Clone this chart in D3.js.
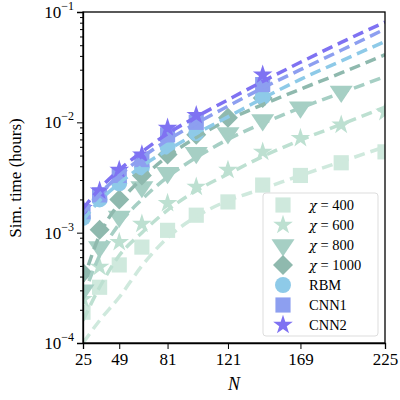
<!DOCTYPE html>
<html><head><meta charset="utf-8">
<script src="https://cdn.jsdelivr.net/npm/d3@7"></script>
<style>body{margin:0;background:#fff}text{font-family:"Liberation Serif",serif;}</style>
</head><body><svg id="c" width="400" height="400"></svg>
<script>
const xTicks=[25,49,81,121,169,225];
const fitN=[25,36,49,64,81,100,121,144,169,196,225];
const names=["400","600","800","1000","RBM","CNN1","CNN2"];
const colors=["#cfe9dd","#bde0d1","#a6cfc4","#8fb9ae","#8ecae8","#8d9ff0","#7f72f2"];
const shapes=["square","star","triangle","diamond","circle","square","star"];
const dataN=[
 [25,36,49,64,81,100,121,144,169,196,225],
 [25,36,49,64,81,100,121,144,169,196,225],
 [25,36,49,64,81,100,121,144,169,196],
 [25,36,49,64,81,100,121,144],
 [25,36,49,64,81,100,144],
 [25,36,49,64,81,100,144],
 [25,36,49,64,81,100,144]];
const chi400=[1.9e-4,3.2e-4,5.1e-4,7.4e-4,1.05e-3,1.44e-3,1.9e-3,2.7e-3,3.3e-3,4.3e-3,5.4e-3];
const chi600=[2.5e-4,4.9e-4,8.2e-4,1.2e-3,1.85e-3,2.6e-3,3.7e-3,5.4e-3,7.2e-3,9.5e-3,1.24e-2];
const chi800=[3.0e-4,7.4e-4,1.4e-3,2.6e-3,3.5e-3,5.3e-3,8.0e-3,1.05e-2,1.37e-2,1.9e-2];
const chi1000=[4.3e-4,1.06e-3,2.0e-3,3.3e-3,5.1e-3,7.7e-3,1.1e-2,1.66e-2];
const rbm=[1.36e-3,2.0e-3,2.8e-3,3.9e-3,6.0e-3,8.0e-3,1.7e-2];
const cnn1=[1.55e-3,2.2e-3,3.3e-3,4.6e-3,7.7e-3,1.0e-2,2.2e-2];
const cnn2=[1.67e-3,2.4e-3,3.7e-3,5.1e-3,8.9e-3,1.16e-2,2.7e-2];
const fit400=[1.0e-4,1.6e-4,2.6e-4,5.0e-4,9.0e-4,1.4e-3,1.95e-3,2.5e-3,3.3e-3,4.4e-3,6.0e-3];
const fit600=[1.6e-4,3.2e-4,6.2e-4,1.0e-3,1.6e-3,2.4e-3,3.4e-3,4.9e-3,6.9e-3,9.6e-3,1.37e-2];
const fit800=[2.6e-4,6.2e-4,1.2e-3,2.0e-3,3.2e-3,4.8e-3,7.0e-3,9.8e-3,1.35e-2,1.85e-2,2.6e-2];
const fit1000=[3.6e-4,9.5e-4,1.85e-3,3.1e-3,4.9e-3,7.3e-3,1.05e-2,1.45e-2,2.0e-2,2.8e-2,4.1e-2];
const fitRbm=[1.3e-3,1.95e-3,2.8e-3,4.0e-3,5.6e-3,7.9e-3,1.12e-2,1.65e-2,2.45e-2,3.6e-2,5.4e-2];
const fitCnn1=[1.5e-3,2.25e-3,3.3e-3,4.8e-3,6.9e-3,9.8e-3,1.4e-2,2.05e-2,3.0e-2,4.5e-2,7.0e-2];
const fitCnn2=[1.65e-3,2.5e-3,3.7e-3,5.4e-3,7.9e-3,1.12e-2,1.6e-2,2.35e-2,3.5e-2,5.3e-2,8.1e-2];
const series=[chi400,chi600,chi800,chi1000,rbm,cnn1,cnn2];
const fits=[fit400,fit600,fit800,fit1000,fitRbm,fitCnn1,fitCnn2];

const L=83,R=385,T=12,B=343;
const svg=d3.select("#c");
const x=d3.scaleLinear().domain([25,225]).range([L,R]);
const y=d3.scaleLog().domain([1e-4,1e-1]).range([B,T]);
svg.append("clipPath").attr("id","cp").append("rect").attr("x",L).attr("y",T).attr("width",R-L).attr("height",B-T);
const g=svg.append("g").attr("clip-path","url(#cp)");
const sym={square:d3.symbolSquare,star:d3.symbolStar,triangle:d3.symbolTriangle,diamond:d3.symbolSquare,circle:d3.symbolCircle};
const size={square:230,star:120,triangle:190,diamond:200,circle:200};
function marker(sel,shape,c){
  const p=sel.append("path").attr("d",d3.symbol().type(sym[shape]).size(size[shape])()).attr("fill",c);
  if(shape==="triangle") p.attr("transform","rotate(180) scale(1.1,0.95)");
  if(shape==="diamond") p.attr("transform","rotate(45)");
  return p;
}
const line=d3.line().x(d=>x(d[0])).y(d=>y(d[1])).curve(d3.curveMonotoneX);
series.forEach((s,i)=>{
  s.forEach((v,j)=>{
    const m=g.append("g").attr("transform",`translate(${x(dataN[i][j])},${y(v)})`);
    marker(m,shapes[i],colors[i]);
  });
});
fits.forEach((f,i)=>{
  g.append("path").attr("d",line(f.map((v,j)=>[fitN[j],v]))).attr("fill","none")
   .attr("stroke",colors[i]).attr("stroke-width",3.5).attr("stroke-dasharray","11,6");
});
const xa=svg.append("g").attr("transform",`translate(0,${B})`).call(d3.axisBottom(x).tickValues(xTicks).tickSize(6).tickPadding(4));
xa.selectAll("text").attr("font-size",17).attr("fill","#000");
const ya=svg.append("g").attr("transform",`translate(${L},0)`);
const minors=[];for(let e=-4;e<-1;e++)for(let k=2;k<10;k++)minors.push(k*Math.pow(10,e));
ya.call(d3.axisLeft(y).tickValues(minors).tickSize(3).tickFormat(""));
ya.selectAll(".domain").remove();
svg.append("g").attr("transform",`translate(${L},0)`).call(d3.axisLeft(y).tickValues([1e-4,1e-3,1e-2,1e-1]).tickSize(6).tickFormat(""));
[1e-4,1e-3,1e-2,1e-1].forEach(v=>{
  const t=svg.append("text").attr("x",L-9).attr("y",y(v)+6).attr("text-anchor","end").attr("font-size",17);
  t.append("tspan").text("10");
  t.append("tspan").attr("dy",-8).attr("font-size",12).text("−"+(-Math.round(Math.log10(v))));
});
svg.append("rect").attr("x",L).attr("y",T).attr("width",R-L).attr("height",B-T).attr("fill","none").attr("stroke","#000").attr("stroke-width",1.3);
svg.selectAll(".domain").attr("stroke","#000").attr("stroke-width",1.3);
svg.selectAll(".tick line").attr("stroke","#000");
svg.append("text").attr("x",234).attr("y",390).attr("text-anchor","middle").attr("font-size",18).attr("font-style","italic").text("N");
svg.append("text").attr("transform","translate(21,178) rotate(-90)").attr("text-anchor","middle").attr("font-size",17).text("Sim. time (hours)");
const lg=svg.append("g");
lg.append("rect").attr("x",263).attr("y",193).attr("width",115).attr("height",143).attr("rx",3).attr("fill","#fff").attr("fill-opacity",0.85).attr("stroke","#ddd");
names.forEach((n,i)=>{
  const yy=205+i*20;
  const m=lg.append("g").attr("transform",`translate(283,${yy})`);
  marker(m,shapes[i],colors[i]);
  const t=lg.append("text").attr("x",309).attr("y",yy+5).attr("font-size",14.5);
  if(i<4){
    t.append("tspan").attr("font-family","DejaVu Serif").attr("font-style","italic").attr("font-size",13).text("χ");
    t.append("tspan").text(" = "+n);
  } else t.text(n);
});
</script></body></html>
